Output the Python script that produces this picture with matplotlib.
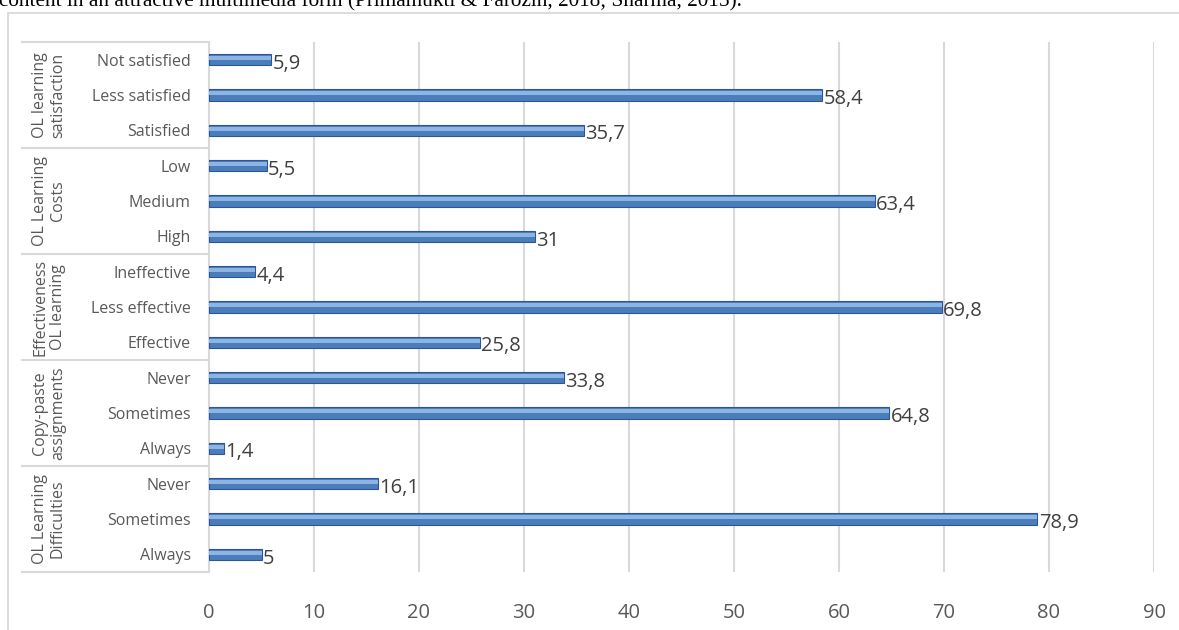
import matplotlib
matplotlib.use("Agg")
import matplotlib.pyplot as plt
import matplotlib.transforms as mtransforms
from matplotlib.patches import Rectangle
import numpy as np

# data, top to bottom
categories = ["Not satisfied", "Less satisfied", "Satisfied",
              "Low", "Medium", "High",
              "Ineffective", "Less effective", "Effective",
              "Never", "Sometimes", "Always",
              "Never", "Sometimes", "Always"]
values = [5.9, 58.4, 35.7,
          5.5, 63.4, 31,
          4.4, 69.8, 25.8,
          33.8, 64.8, 1.4,
          16.1, 78.9, 5]
groups = ["OL learning\nsatisfaction", "OL Learning\nCosts",
          "Effectiveness\nOL learning", "Copy-paste\nassignments",
          "OL Learning\nDifficulties"]
group_size = 3
xticks = [0, 10, 20, 30, 40, 50, 60, 70, 80, 90]

W, H = 1179, 630
fig = plt.figure(figsize=(W / 100, H / 100), dpi=100)
plt.rcParams['font.family'] = ['Open Sans', 'DejaVu Sans']

# clipped paragraph text above the chart
fig.text(-0.001, 1 - 6 / H,
         "content in an attractive multimedia form (Primamukti & Farozin, 2018; Sharma, 2015).",
         family=['Liberation Serif'], fontsize=15.3, va='baseline', ha='left', color='black')

# chart area border
fig.patches.append(Rectangle((8 / W, -0.1), 1.2, 1.1 - 13 / H, transform=fig.transFigure,
                             fill=False, edgecolor='#d9d9d9', lw=1.3, zorder=0))

left, right = 209 / W, 1154 / W
top, bottom = 1 - 42 / H, 1 - 572 / H
ax = fig.add_axes([left, bottom, right - left, top - bottom])

y = np.arange(len(values))
ax.barh(y, values, height=0.33, color='#4a7ebb', edgecolor='#2f5597', lw=0.8, zorder=3)
ax.barh(y - 0.05, values, height=0.11, color='#8db4e3', lw=0, zorder=4)

for yi, v in zip(y, values):
    lab = f"{v:g}".replace('.', ',')
    ax.annotate(lab, (v, yi), xytext=(1, -3), textcoords='offset points',
                ha='left', va='center', fontsize=14.5, color='#404040', zorder=5)

ax.set_xlim(0, 90)
ax.set_ylim(len(values) - 0.5, -0.5)
ax.set_xticks(xticks)
ax.set_xticklabels([str(t) for t in xticks])
ax.tick_params(axis='x', length=0, pad=22, labelsize=14.5, labelcolor='#595959')
ax.set_yticks(y)
ax.set_yticklabels(categories)
ax.tick_params(axis='y', length=0, pad=13, labelsize=11.5, labelcolor='#595959')
ax.grid(axis='x', color='#d9d9d9', lw=1.5, zorder=0)
for s in ax.spines.values():
    s.set_visible(False)

# group label box
trans = mtransforms.blended_transform_factory(ax.transAxes, ax.transData)
box_left = (22 - 209) / (1154 - 209)
n_groups = len(groups)
for g in range(n_groups + 1):
    yb = g * group_size - 0.5
    ax.plot([box_left, 0], [yb, yb], transform=trans, color='#d9d9d9', lw=1.5,
            clip_on=False, zorder=1)
ax.plot([0, 0], [-0.5, len(values) - 0.5], transform=trans, color='#d9d9d9', lw=1.5,
        clip_on=False, zorder=1)
gx = (49 - 209) / (1154 - 209)
for g, name in enumerate(groups):
    yc = g * group_size + (group_size - 1) / 2
    ax.text(gx, yc, name, transform=trans, rotation=90, ha='center', va='center',
            fontsize=11.5, color='#595959', linespacing=1.15)

fig.savefig("out.png", dpi=100)
